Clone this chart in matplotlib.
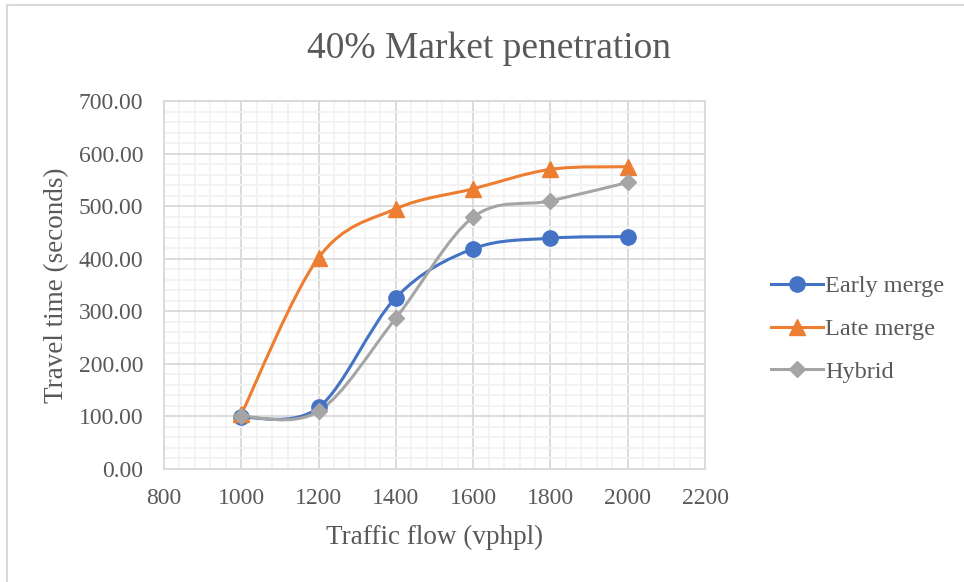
import matplotlib
matplotlib.use("Agg")
import matplotlib.pyplot as plt
import numpy as np
from matplotlib.lines import Line2D
from matplotlib.patches import PathPatch, Rectangle
from matplotlib.path import Path
from matplotlib.ticker import MultipleLocator, FormatStrFormatter

plt.rcParams["font.family"] = ["Liberation Serif", "DejaVu Serif"]

traffic_flow = [1000, 1200, 1400, 1600, 1800, 2000]
early_merge = [98, 117, 326, 419, 439, 442]
late_merge = [104, 402, 495, 533, 570, 575]
hybrid = [100, 110, 287, 479, 510, 545]

series = [
    ("Early merge", early_merge, "#4472C4", "o", 11),
    ("Late merge", late_merge, "#ED7D31", "^", 11),
    ("Hybrid", hybrid, "#A5A5A5", "D", 8),
]

TEXT = "#595959"


def smooth_path(xs, ys):
    # Excel-style smoothed line: Bezier segments with Catmull-Rom handles
    pts = np.column_stack([xs, ys]).astype(float)
    n = len(pts)
    verts = [pts[0]]
    codes = [Path.MOVETO]
    for i in range(n - 1):
        p0 = pts[i - 1] if i > 0 else pts[i]
        p1 = pts[i]
        p2 = pts[i + 1]
        p3 = pts[i + 2] if i + 2 < n else pts[i + 1]
        c1 = p1 + (p2 - p0) / 6.0
        c2 = p2 - (p3 - p1) / 6.0
        verts += [c1, c2, p2]
        codes += [Path.CURVE4] * 3
    return Path(verts, codes)


fig = plt.figure(figsize=(9.64, 5.82), dpi=100)
ax = fig.add_axes([164 / 964, 1 - 469 / 582, (705 - 164) / 964, (469 - 101) / 582])

# chart frame
fig.patches.append(Rectangle((7 / 964, -0.1), 1.2, 1 - 5 / 582 + 0.1,
                             transform=fig.transFigure, fill=False,
                             edgecolor="#d9d9d9", linewidth=1.5))

handles = []
for name, vals, color, marker, ms in series:
    ax.add_patch(PathPatch(smooth_path(traffic_flow, vals), facecolor="none",
                           edgecolor=color, linewidth=2.2, zorder=3,
                           capstyle="round", joinstyle="round"))
    ax.plot(traffic_flow, vals, linestyle="none", marker=marker, markersize=ms,
            color=color, markeredgecolor=color, zorder=4)
    handles.append(Line2D([0], [0], color=color, lw=2.2, marker=marker,
                          markersize=ms, label=name))

ax.set_xlim(800, 2200)
ax.set_ylim(0, 700)
ax.xaxis.set_major_locator(MultipleLocator(200))
ax.xaxis.set_minor_locator(MultipleLocator(40))
ax.yaxis.set_major_locator(MultipleLocator(100))
ax.yaxis.set_minor_locator(MultipleLocator(20))
ax.yaxis.set_major_formatter(FormatStrFormatter("%.2f"))
ax.grid(True, which="minor", color="#f2f2f2", linewidth=1.3, zorder=0)
ax.grid(True, which="major", color="#d9d9d9", linewidth=1.3, zorder=1)
ax.set_axisbelow(True)
for sp in ax.spines.values():
    sp.set_color("#d9d9d9")
    sp.set_linewidth(1.3)
ax.tick_params(which="both", length=0, labelsize=17, labelcolor=TEXT)
ax.tick_params(axis="x", pad=14)
ax.tick_params(axis="y", pad=15)

fig.text(435 / 964, 1 - 537 / 582, "Traffic flow (vphpl)", ha="center",
         va="center", fontsize=19.5, color=TEXT)
fig.text(57 / 964, 1 - 285 / 582, "Travel time (seconds)", ha="center",
         va="center", rotation=90, fontsize=19.5, color=TEXT)
fig.text(489 / 964, 1 - 49 / 582, "40% Market penetration", ha="center",
         va="center", fontsize=27, color=TEXT)

leg = fig.legend(handles=handles, loc="center left",
                 bbox_to_anchor=(761 / 964, 1 - 329 / 582), frameon=False,
                 fontsize=17.5, handlelength=2.15, handletextpad=0.1,
                 labelspacing=0.85, borderaxespad=0)
for t in leg.get_texts():
    t.set_color(TEXT)

fig.savefig("out.png", dpi=100)
